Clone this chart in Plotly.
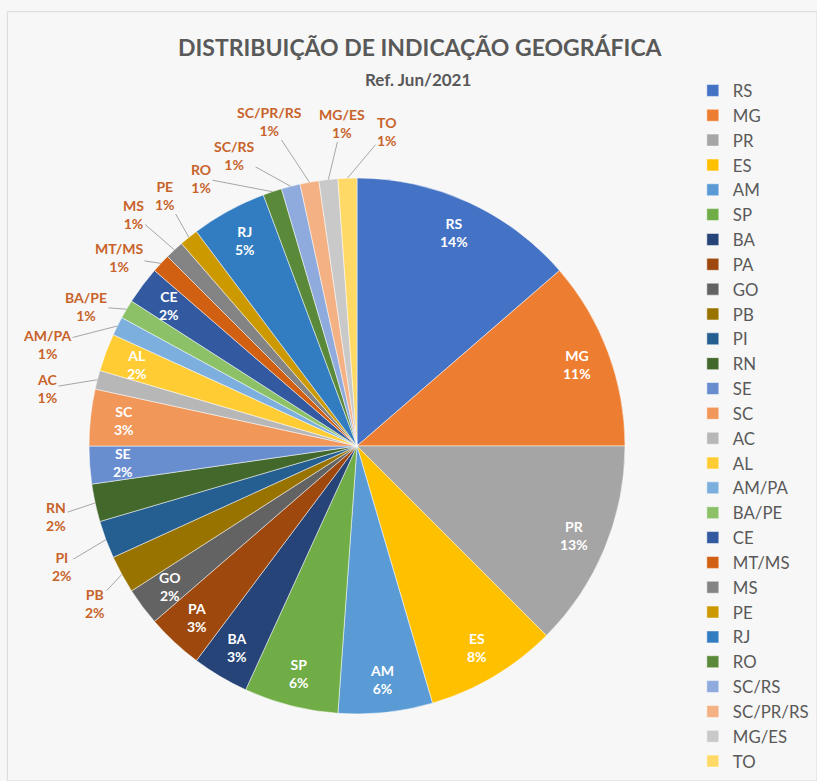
import math
import plotly.graph_objects as go

labels = ["RS", "MG", "PR", "ES", "AM", "SP", "BA", "PA", "GO", "PB", "PI", "RN", "SE", "SC",
          "AC", "AL", "AM/PA", "BA/PE", "CE", "MT/MS", "MS", "PE", "RJ", "RO", "SC/RS",
          "SC/PR/RS", "MG/ES", "TO"]
values = [12, 10, 11, 7, 5, 5, 3, 3, 2, 2, 2, 2, 2, 3,
          1, 2, 1, 1, 2, 1, 1, 1, 4, 1, 1,
          1, 1, 1]
colors = ["#4472C4", "#ED7D31", "#A5A5A5", "#FFC000", "#5B9BD5", "#70AD47", "#264478",
          "#9E480E", "#636363", "#997300", "#255E91", "#43682B", "#698ED0", "#F1975A",
          "#B7B7B7", "#FFCD33", "#7CAFDD", "#8CC168", "#335AA1", "#D26012", "#848484",
          "#CC9A00", "#327DC2", "#5A8A39", "#8FAADC", "#F4B183", "#C9C9C9", "#FFD966"]

# placement of the outside (data-callout) labels, in page pixels (text centre)
outside_label_pos = {
    "RN": (56, 516), "PI": (62, 566), "PB": (95, 603), "AC": (47, 388),
    "AM/PA": (47, 344), "BA/PE": (86, 306), "MT/MS": (119, 257), "MS": (133, 214),
    "PE": (165, 195), "RO": (201, 178), "SC/RS": (234, 155), "SC/PR/RS": (269, 121),
    "MG/ES": (342, 123), "TO": (387, 131),
}

W, H = 817, 781
cx, cy, r = 357, 446, 268
FONT = "Lato"


def px(x):
    return x / W


def py(y):
    return 1 - y / H


fig = go.Figure(go.Pie(
    labels=labels, values=values, sort=False, direction="clockwise", rotation=0,
    marker=dict(colors=colors, line=dict(color="white", width=0.5)),
    textinfo="none",
    hoverinfo="label+percent",
    domain=dict(x=[px(cx - r), px(cx + r)], y=[py(cy + r), py(cy - r)]),
))

annotations = [
    dict(text="<b>DISTRIBUIÇÃO DE INDICAÇÃO GEOGRÁFICA</b>", x=px(420), y=py(47),
         xref="paper", yref="paper", xanchor="center", yanchor="middle", showarrow=False,
         font=dict(size=23, color="#595959", family=FONT)),
    dict(text="<b>Ref. Jun/2021</b>", x=px(418), y=py(80),
         xref="paper", yref="paper", xanchor="center", yanchor="middle", showarrow=False,
         font=dict(size=17, color="#595959", family=FONT)),
]

total = sum(values)
cum = 0
for lab, val in zip(labels, values):
    mid = (cum + val / 2) / total * 2 * math.pi
    cum += val
    pct = f"{int(val / total * 100 + 0.5)}%"
    txt = f"<b>{lab}<br>{pct}</b>"
    if lab in outside_label_pos:
        hx = cx + r * math.sin(mid)
        hy = cy - r * math.cos(mid)
        tx, ty = outside_label_pos[lab]
        annotations.append(dict(
            text=txt, x=px(hx), y=py(hy), xref="paper", yref="paper",
            ax=tx - hx, ay=ty - hy, showarrow=True, arrowhead=0, arrowwidth=1,
            arrowcolor="#A6A6A6", standoff=0,
            font=dict(size=14, color="#C8632A", family=FONT), align="center"))
    else:
        rr = 0.875 * r
        tx = cx + rr * math.sin(mid)
        ty = cy - rr * math.cos(mid)
        annotations.append(dict(
            text=txt, x=px(tx), y=py(ty), xref="paper", yref="paper",
            xanchor="center", yanchor="middle", showarrow=False, align="center",
            font=dict(size=14, color="white", family=FONT)))

fig.update_layout(
    width=W, height=H,
    margin=dict(l=0, r=0, t=0, b=0),
    paper_bgcolor="#F7F7F7",
    font=dict(family=FONT, color="#595959"),
    annotations=annotations,
    legend=dict(x=0.848, y=py(73), xanchor="left", yanchor="top",
                font=dict(size=16.8, color="#595959", family=FONT),
                bgcolor="rgba(0,0,0,0)", itemwidth=30),
    shapes=[dict(type="rect", xref="paper", yref="paper", x0=0.009, y0=0.0, x1=1.0, y1=0.985,
                 line=dict(color="#D9D9D9", width=1))],
)

fig.write_html("out.html")
